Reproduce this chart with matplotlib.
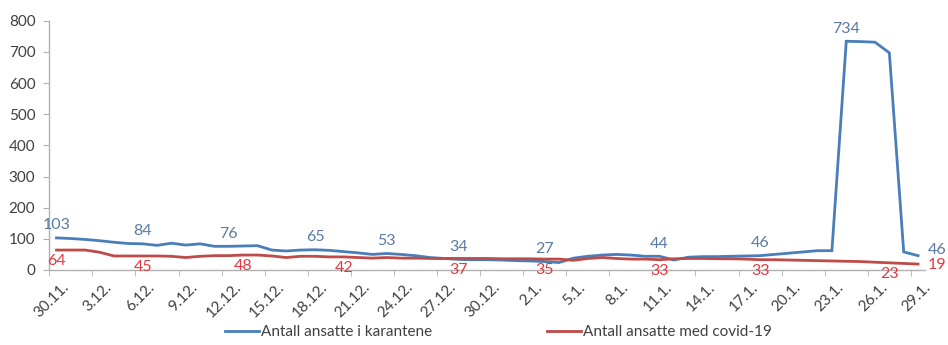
import numpy as np
import matplotlib

matplotlib.use("Agg")
import matplotlib.pyplot as plt
from matplotlib.transforms import ScaledTranslation

plt.rcParams["font.family"] = ["Lato", "DejaVu Sans"]

# daily values, 30.11. -> 29.1.
DATES = (
    ["30.11."]
    + [f"{d}.12." for d in range(1, 32)]
    + [f"{d}.1." for d in range(1, 30)]
)

KARANTENE = [
    103, 101, 98, 94, 89, 85, 84, 79, 86, 80,
    84, 76, 76, 77, 78, 64, 61, 64, 65, 63,
    59, 55, 50, 53, 50, 46, 40, 37, 34, 33,
    33, 32, 30, 29, 27, 24, 38, 44, 48, 50,
    48, 44, 44, 32, 41, 43, 43, 44, 45, 46,
    50, 54, 58, 62, 62, 734, 733, 731, 697, 58,
    46,
]

COVID = [
    64, 64, 64, 57, 45, 45, 45, 45, 44, 40,
    44, 46, 46, 48, 48, 45, 40, 44, 44, 42,
    42, 40, 38, 40, 38, 38, 37, 37, 37, 37,
    37, 36, 36, 36, 35, 35, 31, 37, 40, 37,
    35, 35, 33, 36, 37, 37, 36, 36, 35, 33,
    33, 32, 31, 30, 29, 28, 27, 25, 23, 21,
    19,
]

# which points get a value label
KARANTENE_LABELS = [0, 6, 12, 18, 23, 28, 34, 42, 49, 55]
COVID_LABELS = [0, 6, 13, 20, 28, 34, 42, 49, 58]

BLUE = "#4a7ebb"
RED = "#be4b48"
BLUE_TXT = "#5b7aa3"
RED_TXT = "#e5383f"
AXIS_GREY = "#b0b0b0"
TXT = "#404040"


def main():
    fig = plt.figure(figsize=(9.48, 3.45), dpi=100)
    ax = fig.add_axes([0.052, 0.2174, 0.924, 0.7226])

    x = np.arange(len(DATES))
    ax.plot(x, KARANTENE, color=BLUE, lw=2.0, label="Antall ansatte i karantene",
            solid_joinstyle="miter")
    ax.plot(x, COVID, color=RED, lw=2.0, label="Antall ansatte med covid-19")

    ax.set_xlim(-0.5, len(DATES) - 0.5)
    ax.set_ylim(0, 800)
    ax.set_yticks(np.arange(0, 801, 100))

    ax.set_xticks(x[::3])
    ax.set_xticklabels(DATES[::3], rotation=45, ha="right", va="center",
                       rotation_mode="anchor", fontsize=11, color=TXT)
    ax.set_xticks(np.arange(-0.5, len(DATES), 3), minor=True)
    ax.tick_params(axis="x", which="major", length=0, pad=11)
    ax.tick_params(axis="x", which="minor", length=4, color=AXIS_GREY, direction="out")
    ax.tick_params(axis="y", length=4, color=AXIS_GREY, labelsize=11,
                   labelcolor=TXT, pad=6)
    shift = ScaledTranslation(10 / 100, 0, fig.dpi_scale_trans)
    for lbl in ax.get_xticklabels():
        lbl.set_transform(lbl.get_transform() + shift)

    for side in ("top", "right"):
        ax.spines[side].set_visible(False)
    for side in ("left", "bottom"):
        ax.spines[side].set_color(AXIS_GREY)
        ax.spines[side].set_linewidth(1.0)

    for i in KARANTENE_LABELS:
        ax.annotate(str(KARANTENE[i]), (x[i], KARANTENE[i]), xytext=(0, 4),
                    textcoords="offset points", ha="center", va="bottom",
                    fontsize=11.5, color=BLUE_TXT)
    for i in COVID_LABELS:
        ax.annotate(str(COVID[i]), (x[i], COVID[i]), xytext=(0, -3),
                    textcoords="offset points", ha="center", va="top",
                    fontsize=11.5, color=RED_TXT)
    # last values sit to the right of the line ends
    ax.annotate(str(KARANTENE[-1]), (x[-1], KARANTENE[-1]), xytext=(7, 4),
                textcoords="offset points", ha="left", va="center",
                fontsize=11.5, color=BLUE_TXT, annotation_clip=False)
    ax.annotate(str(COVID[-1]), (x[-1], COVID[-1]), xytext=(7, -1),
                textcoords="offset points", ha="left", va="center",
                fontsize=11.5, color=RED_TXT, annotation_clip=False)

    fig.legend(loc="lower center", bbox_to_anchor=(0.526, 0.0), ncol=2, frameon=False,
               fontsize=11, handlelength=2.2, handletextpad=0.15,
               columnspacing=7.5, labelcolor=TXT, borderaxespad=0.2,
               borderpad=0.2)

    fig.savefig("out.png", dpi=100, facecolor="white")
    plt.close(fig)


if __name__ == "__main__":
    main()
